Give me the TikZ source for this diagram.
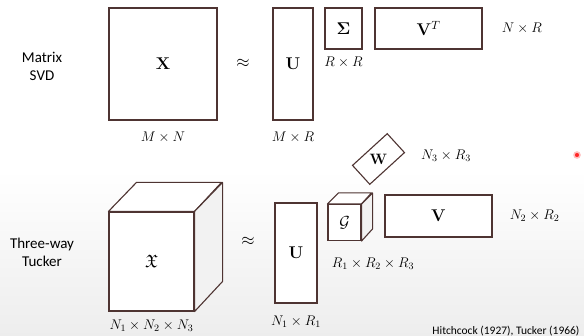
\RequirePackage{fix-cm}
\documentclass[tikz,border=0pt]{standalone}
\usepackage{amsmath, amssymb}
\usepackage[no-math]{fontspec}
\newfontfamily\labelfont{Carlito}
\usetikzlibrary{positioning, calc}

\definecolor{edge}{RGB}{78,52,50}

\begin{document}
\begin{tikzpicture}[
    x=1pt, y=-1pt,
    mat/.style={draw=edge, line width=1.1pt, fill=white, inner sep=0pt, font=\fontsize{17}{17}\selectfont},
    dim/.style={font=\fontsize{14}{14}\selectfont, inner sep=1pt},
    side/.style={draw=edge, line width=1.1pt, fill=gray!10, line join=round},
    rowlabel/.style={font=\labelfont\fontsize{15}{18}\selectfont, align=center},
    approx/.style={font=\fontsize{17}{17}\selectfont}
]
\useasboundingbox (0,0) rectangle (584,336);
\shade[top color=white, bottom color=gray!14] (0,170) rectangle (584,336);

% matrix SVD
\node[rowlabel] (svd) at (42,66) {Matrix\\SVD};
\node[mat, minimum width=108pt, minimum height=112pt] (xmat) at (163,64) {$\mathbf{X}$};
\node[approx] (approx1) at (243,63) {$\approx$};
\node[mat, minimum width=40pt, minimum height=112pt] (umat) at (293,64) {$\mathbf{U}$};
\node[mat, minimum width=37pt, minimum height=41pt] (sigma) at (343.5,28.5) {$\boldsymbol{\Sigma}$};
\node[mat, minimum width=107pt, minimum height=41pt] (vt) at (428.5,28.5) {$\mathbf{V}^T$};

\node[dim, below=10pt of xmat] (xdim) {$M \times N$};
\node[dim, below=10pt of umat] (udim) {$M \times R$};
\node[dim, below=6pt of sigma] (sdim) {$R \times R$};
\node[dim, right=18pt of vt] (vtdim) {$N \times R$};

% three-way Tucker
\node[rowlabel] (tucker) at (42,252) {Three-way\\Tucker};
\node[mat, minimum width=85pt, minimum height=99pt] (xten) at (151.5,261.5) {};
\draw[side, fill=white] (xten.north west) -- ++(28,-29) -- ++(85,0) -- (xten.north east) -- cycle;
\draw[side] (xten.north east) -- ++(28,-29) -- ++(0,99) -- (xten.south east) -- cycle;
\node[font=\fontsize{18}{18}\selectfont] at (xten.center) {$\mathfrak{X}$};
\node[dim, below=7pt of xten] (xtdim) {$N_1 \times N_2 \times N_3$};

\node[approx] (approx2) at (248,241) {$\approx$};
\node[mat, minimum width=42pt, minimum height=100pt] (u2) at (296,253) {$\mathbf{U}$};
\node[dim, below=11pt of u2] (u2dim) {$N_1 \times R_1$};

\node[mat, minimum width=33pt, minimum height=36pt] (gten) at (344.5,222.5) {};
\draw[side, fill=white] (gten.north west) -- ++(11,-11) -- ++(33,0) -- (gten.north east) -- cycle;
\draw[side] (gten.north east) -- ++(11,-11) -- ++(0,36) -- (gten.south east) -- cycle;
\node[font=\fontsize{16}{16}\selectfont] at (gten.center) {$\mathcal{G}$};
\node[dim] (gdim) at (373,264) {$R_1 \times R_2 \times R_3$};

\node[mat, minimum width=47pt, minimum height=25.6pt, rotate=42.4] (wmat) at (378.5,159) {};
\node[font=\fontsize{15}{15}\selectfont] at (wmat.center) {$\mathbf{W}$};
\node[dim] (wdim) at (446,156) {$N_3 \times R_3$};

\node[mat, minimum width=107pt, minimum height=42pt] (vmat) at (438.5,216) {$\mathbf{V}$};
\node[dim, right=16pt of vmat] (vdim) {$N_2 \times R_2$};

\node[font=\labelfont\fontsize{11.5}{12}\selectfont, anchor=east] (cite) at (583,331) {Hitchcock (1927), Tucker (1966)};

\node[circle, fill=red!85, draw=red!25, line width=1.5pt, minimum size=6pt, inner sep=0pt] (ptr) at (577,155) {};
\end{tikzpicture}
\end{document}
